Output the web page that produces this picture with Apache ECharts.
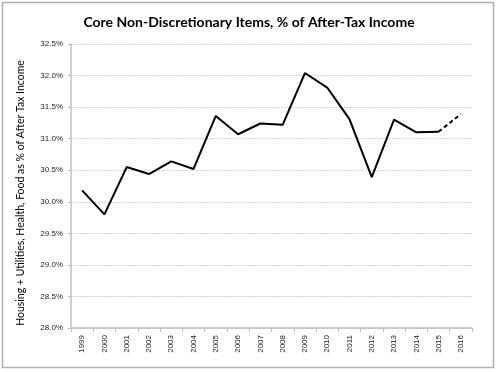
<!DOCTYPE html>
<html>
<head>
<meta charset="utf-8">
<script src="https://cdn.jsdelivr.net/npm/echarts@6/dist/echarts.min.js"></script>
<style>
html,body{margin:0;padding:0;background:#fff;}
#chart{width:498px;height:372px;}
</style>
</head>
<body>
<div id="chart"></div>
<script>
const years = ['1999','2000','2001','2002','2003','2004','2005','2006','2007','2008','2009','2010','2011','2012','2013','2014','2015','2016'];
const actualValues = [30.18,29.80,30.55,30.44,30.64,30.52,31.36,31.07,31.24,31.22,32.04,31.81,31.31,30.39,31.30,31.10,31.11,null];
const projectedValues = [null,null,null,null,null,null,null,null,null,null,null,null,null,null,null,null,31.11,31.39];
const yTicks = {min:28.0, max:32.5, interval:0.5};
const titleText = 'Core Non-Discretionary Items, % of After-Tax Income';
const yAxisTitle = 'Housing + Utilities, Health, Food as % of After Tax Income';

const chart = echarts.init(document.getElementById('chart'), null, {renderer:'canvas'});
chart.setOption({
  animation:false,
  backgroundColor:'#fff',
  title:{
    text:titleText, left:'center', top:10,
    textStyle:{fontFamily:'Lato', fontWeight:'bold', fontSize:14, color:'#000'}
  },
  graphic:[{
    type:'rect', shape:{x:2.5,y:2.5,width:491,height:365},
    style:{fill:'none', stroke:'#b0b0b0', lineWidth:1.5}, silent:true
  }],
  grid:{left:71, right:26, top:44, bottom:44, containLabel:false},
  xAxis:{
    type:'category', data:years, boundaryGap:true,
    axisLine:{lineStyle:{color:'#bfbfbf', width:1.5}},
    axisTick:{show:true, length:4, lineStyle:{color:'#bfbfbf'}},
    axisLabel:{rotate:90, fontSize:8, fontFamily:'Liberation Sans', color:'#222', margin:7}
  },
  yAxis:{
    type:'value', min:yTicks.min, max:yTicks.max, interval:yTicks.interval,
    name:yAxisTitle, nameLocation:'middle', nameGap:45, nameRotate:90,
    nameTextStyle:{fontFamily:'Lato', fontSize:10.5, color:'#000', padding:[0,14,0,0]},
    axisLine:{show:true, lineStyle:{color:'#bfbfbf', width:1.5}},
    axisTick:{show:true, length:3, lineStyle:{color:'#bfbfbf'}},
    axisLabel:{fontSize:8, fontFamily:'Liberation Sans', color:'#222', margin:8,
      formatter:v=>v.toFixed(1)+'%'},
    splitLine:{show:true, lineStyle:{color:'#d4d4d4', type:[2,1], width:1}}
  },
  series:[
    {type:'line', data:actualValues, symbol:'none', connectNulls:false,
     lineStyle:{color:'#000', width:2}},
    {type:'line', data:projectedValues, symbol:'none', connectNulls:false,
     lineStyle:{color:'#000', width:2, type:[4,3]}}
  ]
});
</script>
</body>
</html>
